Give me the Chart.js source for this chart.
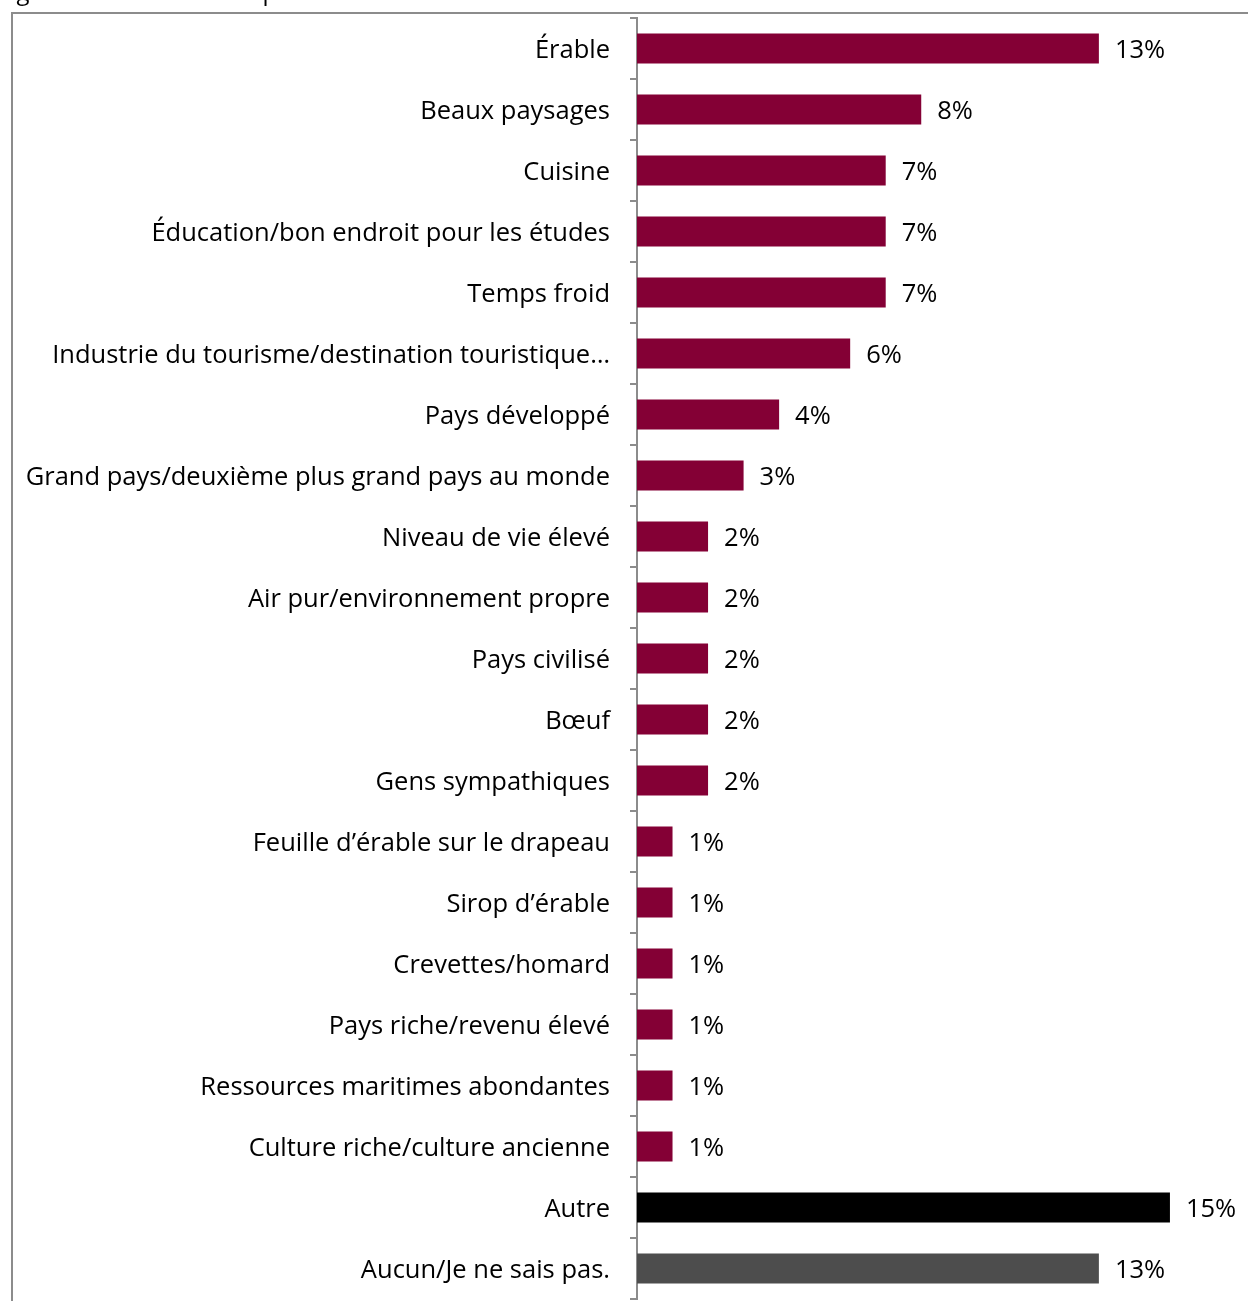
<!DOCTYPE html>
<html lang="fr">
<head>
<meta charset="utf-8">
<title>Associations spontanées au Canada</title>
<script src="https://cdn.jsdelivr.net/npm/chart.js@4.4.1/dist/chart.umd.min.js"></script>
<style>
  html, body { margin: 0; padding: 0; background: #fff; }
  #wrap { position: relative; width: 1248px; height: 1301px; }
</style>
</head>
<body>
<div id="wrap"><canvas id="grafico" width="1248" height="1301"></canvas></div>
<script>
const titre = "Figure 3 : Associations spontanées avec le Canada";

const categories = [
  "Érable",
  "Beaux paysages",
  "Cuisine",
  "Éducation/bon endroit pour les études",
  "Temps froid",
  "Industrie du tourisme/destination touristique…",
  "Pays développé",
  "Grand pays/deuxième plus grand pays au monde",
  "Niveau de vie élevé",
  "Air pur/environnement propre",
  "Pays civilisé",
  "Bœuf",
  "Gens sympathiques",
  "Feuille d’érable sur le drapeau",
  "Sirop d’érable",
  "Crevettes/homard",
  "Pays riche/revenu élevé",
  "Ressources maritimes abondantes",
  "Culture riche/culture ancienne",
  "Autre",
  "Aucun/Je ne sais pas."
];

const pourcentages = [13, 8, 7, 7, 7, 6, 4, 3, 2, 2, 2, 2, 2, 1, 1, 1, 1, 1, 1, 15, 13];

// bordeaux pour les réponses, noir pour "Autre", gris pour "Aucun"
const couleurs = categories.map((c, i) =>
  i === categories.length - 2 ? "#000000" : i === categories.length - 1 ? "#4d4d4d" : "#840035");

const police = "'Open Sans', 'Noto Sans', sans-serif";
const taille = 25.5;

// étiquettes de valeur à droite des barres + cadre + titre
const etiquettes = {
  id: "etiquettes",
  beforeDraw(chart) {
    const c = chart.ctx;
    c.save();
    c.strokeStyle = "#8c8c8c";
    c.lineWidth = 2;
    c.beginPath();
    c.moveTo(12, chart.height + 5);
    c.lineTo(12, 13);
    c.lineTo(chart.width + 5, 13);
    c.stroke();
    c.fillStyle = "#000";
    c.font = "24px " + police;
    c.textBaseline = "alphabetic";
    c.textAlign = "left";
    c.fillText(titre, -2, 0);
    c.restore();
  },
  afterDatasetsDraw(chart) {
    const c = chart.ctx;
    const meta = chart.getDatasetMeta(0);
    c.save();
    c.fillStyle = "#000";
    c.font = taille + "px " + police;
    c.textAlign = "left";
    c.textBaseline = "middle";
    meta.data.forEach((bar, i) => {
      c.fillText(pourcentages[i] + "%", bar.x + 16, bar.y + 2);
    });
    c.restore();
  }
};

const ctx = document.getElementById("grafico").getContext("2d");
new Chart(ctx, {
  type: "bar",
  data: {
    labels: categories,
    datasets: [{
      data: pourcentages,
      backgroundColor: couleurs,
      barPercentage: 0.49,
      categoryPercentage: 1
    }]
  },
  options: {
    indexAxis: "y",
    responsive: false,
    animation: false,
    layout: { padding: { top: 18, bottom: 2, left: 0, right: 7 } },
    plugins: { legend: { display: false }, tooltip: { enabled: false } },
    scales: {
      x: {
        display: false,
        min: 0,
        max: 17
      },
      y: {
        afterFit(scale) {
          scale.width = 637;
          scale.paddingTop = 0;
          scale.paddingBottom = 0;
        },
        border: { display: true, color: "#8c8c8c", width: 2 },
        grid: {
          offset: true,
          drawOnChartArea: false,
          drawTicks: true,
          tickLength: 7,
          color: "#8c8c8c",
          lineWidth: 2
        },
        ticks: {
          color: "#000",
          padding: 20,
          labelOffset: 2,
          font: { family: police, size: taille }
        }
      }
    }
  },
  plugins: [etiquettes]
});
</script>
</body>
</html>
